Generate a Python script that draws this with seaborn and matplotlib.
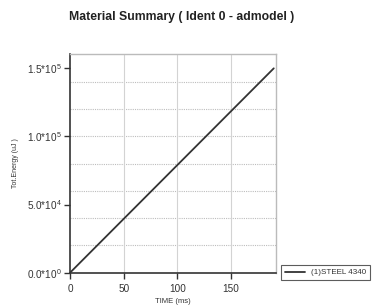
import matplotlib
matplotlib.use("Agg")
import matplotlib.pyplot as plt
import seaborn as sns
import pandas as pd

# data
time_ms = [0, 190]
tot_energy = [0, 150000]
series_name = "(1)STEEL 4340"

xticks = [0, 50, 100, 150]
yticks = [0, 50000, 100000, 150000]
ytick_labels = ["0.0*10$^{0}$", "5.0*10$^{4}$", "1.0*10$^{5}$", "1.5*10$^{5}$"]
ygrid = [20000, 40000, 60000, 80000, 100000, 120000, 140000]

sns.set_style("white")
plt.rcParams["font.family"] = ["Liberation Sans", "DejaVu Sans"]
plt.rcParams["mathtext.default"] = "regular"

df = pd.DataFrame({"TIME (ms)": time_ms, "energy": tot_energy, "mat": series_name})

fig = plt.figure(figsize=(3.79, 3.07), dpi=100)
ax = fig.add_axes([0.185, 0.112, 0.543, 0.712])

for g in ygrid:
    ax.axhline(g, color="#bdbdbd", lw=0.8, ls=(0, (1, 1)), zorder=0)
for t in xticks[1:]:
    ax.axvline(t, color="#d3d3d3", lw=0.8, zorder=0)

sns.lineplot(data=df, x="TIME (ms)", y="energy", hue="mat", palette=["#333333"],
             lw=1.3, ax=ax)

ax.set_xlim(0, 192)
ax.set_ylim(0, 160500)
ax.set_xticks(xticks)
ax.set_yticks(yticks)
ax.set_yticklabels(ytick_labels)
ax.tick_params(axis="both", direction="out", length=4, width=1, labelsize=7.2,
               colors="#333333", left=True, bottom=True)
ax.tick_params(axis="x", pad=4)
ax.tick_params(axis="y", pad=2)

for s in ["left", "bottom"]:
    ax.spines[s].set_color("#333333")
    ax.spines[s].set_linewidth(1.2)
for s in ["top", "right"]:
    ax.spines[s].set_color("#bbbbbb")
    ax.spines[s].set_linewidth(1.0)

ax.set_xlabel("TIME (ms)", fontsize=5.5, labelpad=3, color="#333333")
ax.set_ylabel("Tot.Energy (uJ )", fontsize=5, labelpad=6, color="#333333")

leg = ax.legend(loc="center left", bbox_to_anchor=(1.005, 0.0), fontsize=5.8,
                frameon=True, fancybox=False, handlelength=2.5,
                borderpad=0.45, edgecolor="#333333")
leg.get_frame().set_linewidth(0.8)
for t in leg.get_texts():
    t.set_color("#333333")

fig.text(0.478, 0.945, "Material Summary ( Ident 0 - admodel )", ha="center",
         va="center", fontsize=8.8, fontweight="bold", color="#222222")

fig.savefig("out.png", dpi=100)
